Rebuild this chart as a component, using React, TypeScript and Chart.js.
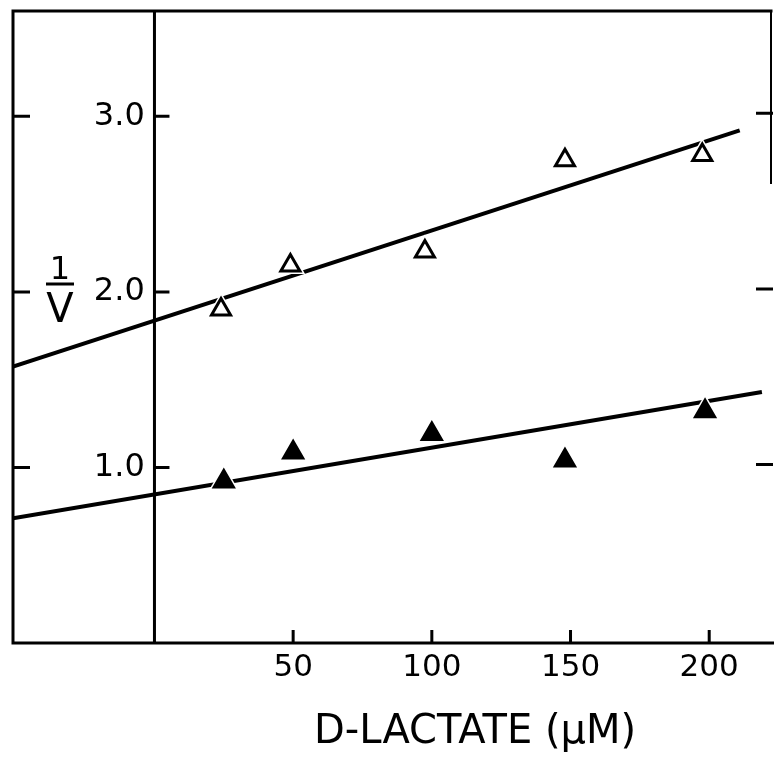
import { useEffect, useRef } from "react";
import { Chart, registerables } from "chart.js";

Chart.register(...registerables);

// D-lactate concentration (µM) and 1/v
const openX = [24, 49, 97.5, 148, 197.5];
const openY = [1.9, 2.15, 2.23, 2.75, 2.78];
const filledX = [25, 50, 100, 148, 198.5];
const filledY = [0.92, 1.085, 1.19, 1.04, 1.32];

// fitted straight lines (end points)
const openFitX = [-51, 211];
const openFitY = [1.575, 2.92];
const filledFitX = [-51, 219];
const filledFitY = [0.71, 1.43];

const xTicks = [50, 100, 150, 200];
const yTicks = [1, 2, 3];
const yTickLabels = ["1.0", "2.0", "3.0"];
const xTitle = "D-LACTATE (μM)";
const yTitleTop = "1";
const yTitleBottom = "V";

const FONT = "DejaVu Sans";

const pts = (xs: number[], ys: number[]) => xs.map((x, i) => ({ x, y: ys[i] }));

const zeroPadding = (s: any) => {
  s.paddingTop = 0;
  s.paddingBottom = 0;
  s.paddingLeft = 0;
  s.paddingRight = 0;
};

const framePlugin = {
  id: "frame",
  afterDraw(chart: any) {
    const { ctx, chartArea, scales } = chart;
    const { left, right, top, bottom } = chartArea;
    const xs = scales.x;
    const ys = scales.y;
    const x0 = xs.getPixelForValue(0);
    ctx.save();
    ctx.strokeStyle = "#000";
    ctx.fillStyle = "#000";
    ctx.lineCap = "square";
    ctx.lineWidth = 3;
    ctx.beginPath();
    ctx.moveTo(left, bottom);
    ctx.lineTo(left, top);
    ctx.lineTo(right - 2, top);
    ctx.moveTo(left, bottom);
    ctx.lineTo(right, bottom);
    ctx.moveTo(x0, top);
    ctx.lineTo(x0, bottom);
    ctx.stroke();
    // right border (only partly visible in the original)
    ctx.lineWidth = 2;
    ctx.beginPath();
    ctx.moveTo(right - 2, top);
    ctx.lineTo(right - 2, ys.getPixelForValue(2.62));
    ctx.stroke();
    // tick marks
    ctx.lineWidth = 3;
    ctx.lineCap = "butt";
    ctx.beginPath();
    yTicks.forEach((v) => {
      const py = ys.getPixelForValue(v);
      ctx.moveTo(left, py);
      ctx.lineTo(left + 17, py);
      ctx.moveTo(x0, py);
      ctx.lineTo(x0 + 15, py);
      ctx.moveTo(right - 17, py - 3);
      ctx.lineTo(right, py - 3);
    });
    xTicks.forEach((v) => {
      const px = xs.getPixelForValue(v);
      ctx.moveTo(px, bottom);
      ctx.lineTo(px, bottom - 13);
    });
    ctx.stroke();
    // 1/V label
    const cx = 60;
    ctx.textAlign = "center";
    ctx.textBaseline = "alphabetic";
    ctx.font = `32px ${FONT}`;
    ctx.fillText(yTitleTop, cx, 279);
    ctx.beginPath();
    ctx.moveTo(46, 284);
    ctx.lineTo(74, 284);
    ctx.stroke();
    ctx.font = `40px ${FONT}`;
    ctx.fillText(yTitleBottom, cx, 322);
    // x title
    ctx.font = `40px ${FONT}`;
    ctx.fillText(xTitle, left + 0.608 * (right - left), 743);
    ctx.restore();
  },
};

export default function App() {
  const ref = useRef<HTMLCanvasElement | null>(null);
  useEffect(() => {
    document.body.style.margin = "0";
    const canvas = ref.current;
    if (!canvas) return;
    const chart = new Chart(canvas, {
      type: "scatter",
      data: {
        datasets: [
          {
            label: "open",
            data: pts(openX, openY),
            pointStyle: "triangle",
            pointRadius: 11,
            pointBackgroundColor: "#fff",
            pointBorderColor: "#000",
            pointBorderWidth: 3,
            order: 0,
          },
          {
            label: "filled",
            data: pts(filledX, filledY),
            pointStyle: "triangle",
            pointRadius: 12,
            pointBackgroundColor: "#000",
            pointBorderColor: "#000",
            pointBorderWidth: 2,
            order: 0,
          },
          {
            label: "halo",
            data: pts(openX, openY).concat(pts(filledX, filledY)),
            pointStyle: "triangle",
            pointRadius: 17,
            pointBackgroundColor: "#fff",
            pointBorderColor: "#fff",
            pointBorderWidth: 0,
            order: 1,
          },
          {
            label: "open fit",
            data: pts(openFitX, openFitY),
            showLine: true,
            pointRadius: 0,
            borderColor: "#000",
            borderWidth: 4,
            order: 2,
          },
          {
            label: "filled fit",
            data: pts(filledFitX, filledFitY),
            showLine: true,
            pointRadius: 0,
            borderColor: "#000",
            borderWidth: 4,
            order: 2,
          },
        ] as any,
      },
      options: {
        animation: false,
        responsive: false,
        devicePixelRatio: 1,
        layout: { autoPadding: false, padding: { left: 13, top: 11, right: 1, bottom: 0 } },
        plugins: { legend: { display: false }, tooltip: { enabled: false }, title: { display: false } },
        scales: {
          x: {
            type: "linear",
            min: -51,
            max: 223,
            grid: { display: false, drawTicks: false },
            border: { display: false },
            afterBuildTicks: (s: any) => {
              s.ticks = xTicks.map((v) => ({ value: v }));
            },
            afterFit: (s: any) => {
              s.height = 118;
              zeroPadding(s);
            },
            ticks: {
              color: "#000",
              padding: 6,
              maxRotation: 0,
              autoSkip: false,
              font: { family: FONT, size: 31 },
            },
          },
          y: {
            type: "linear",
            min: 0,
            max: 3.6,
            position: { x: -3.5 } as any,
            grid: { display: false, drawTicks: false },
            border: { display: false },
            afterBuildTicks: (s: any) => {
              s.ticks = yTicks.map((v) => ({ value: v }));
            },
            afterFit: zeroPadding,
            ticks: {
              color: "#000",
              padding: 8,
              autoSkip: false,
              font: { family: FONT, size: 32 },
              callback: (v: any) => {
                const i = yTicks.indexOf(Number(v));
                return i >= 0 ? yTickLabels[i] : "";
              },
            },
          },
        },
      },
      plugins: [framePlugin],
    });
    return () => chart.destroy();
  }, []);
  return (
    <div style={{ width: 774, height: 761, background: "#fff" }}>
      <canvas ref={ref} width={774} height={761} />
    </div>
  );
}
